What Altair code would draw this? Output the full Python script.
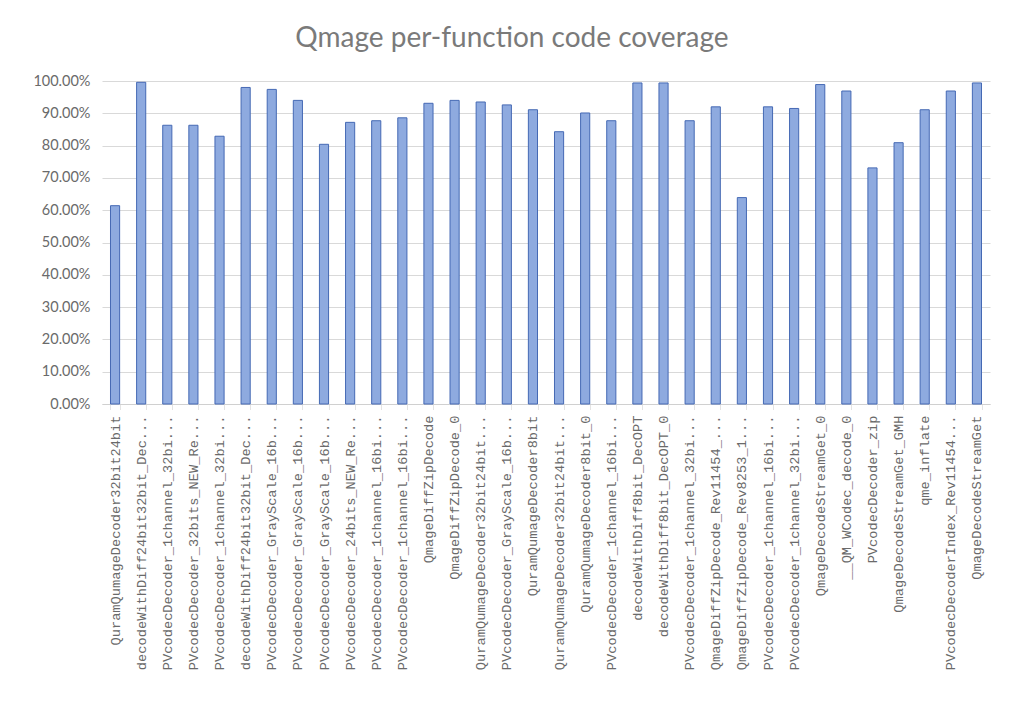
import json
import altair as alt
import pandas as pd

labels = [
    "QuramQumageDecoder32bit24bit",
    "decodeWithDiff24bit32bit_Dec...",
    "PVcodecDecoder_1channel_32bi...",
    "PVcodecDecoder_32bits_NEW_Re...",
    "PVcodecDecoder_1channel_32bi...",
    "decodeWithDiff24bit32bit_Dec...",
    "PVcodecDecoder_GrayScale_16b...",
    "PVcodecDecoder_GrayScale_16b...",
    "PVcodecDecoder_GrayScale_16b...",
    "PVcodecDecoder_24bits_NEW_Re...",
    "PVcodecDecoder_1channel_16bi...",
    "PVcodecDecoder_1channel_16bi...",
    "QmageDiffZipDecode",
    "QmageDiffZipDecode_0",
    "QuramQumageDecoder32bit24bit...",
    "PVcodecDecoder_GrayScale_16b...",
    "QuramQumageDecoder8bit",
    "QuramQumageDecoder32bit24bit...",
    "QuramQumageDecoder8bit_0",
    "PVcodecDecoder_1channel_16bi...",
    "decodeWithDiff8bit_DecOPT",
    "decodeWithDiff8bit_DecOPT_0",
    "PVcodecDecoder_1channel_32bi...",
    "QmageDiffZipDecode_Rev11454_...",
    "QmageDiffZipDecode_Rev8253_1...",
    "PVcodecDecoder_1channel_16bi...",
    "PVcodecDecoder_1channel_32bi...",
    "QmageDecodeStreamGet_0",
    "__QM_WCodec_decode_0",
    "PVcodecDecoder_zip",
    "QmageDecodeStreamGet_GMH",
    "qme_inflate",
    "PVcodecDecoderIndex_Rev11454...",
    "QmageDecodeStreamGet",
]

coverage = [
    0.614, 0.996, 0.863, 0.863, 0.829, 0.980, 0.974, 0.940, 0.804, 0.872,
    0.877, 0.886, 0.931, 0.940, 0.935, 0.926, 0.911, 0.843, 0.901, 0.877,
    0.994, 0.994, 0.877, 0.920, 0.639, 0.920, 0.915, 0.989, 0.969, 0.731,
    0.809, 0.911, 0.969, 0.994,
]

y_ticks = [0, 0.1, 0.2, 0.3, 0.4, 0.5, 0.6, 0.7, 0.8, 0.9, 1.0]

df = pd.DataFrame({"idx": list(range(len(labels))), "coverage": coverage})

label_expr = json.dumps(labels) + "[datum.value]"

chart = (
    alt.Chart(df)
    .mark_bar(fill="#8eaadf", stroke="#4569b4", strokeWidth=1)
    .encode(
        x=alt.X(
            "idx:O",
            title=None,
            scale=alt.Scale(paddingInner=0.65, paddingOuter=0.325),
            axis=alt.Axis(
                labelExpr=label_expr,
                labelAngle=-90,
                labelAlign="right",
                labelBaseline="middle",
                labelFont="Liberation Mono",
                labelFontSize=13.7,
                labelColor="#6a6a6a",
                labelPadding=5,
                domainColor="#d0d0d0",
                tickBand="extent",
                tickColor="#c8c8c8",
                tickSize=6,
                tickDash=[1, 1],
                labelLimit=400,
            ),
        ),
        y=alt.Y(
            "coverage:Q",
            title=None,
            scale=alt.Scale(domain=[0, 1]),
            axis=alt.Axis(
                values=y_ticks,
                format=".2%",
                labelFont="Lato",
                labelFontSize=14.5,
                labelColor="#6a6a6a",
                labelPadding=12,
                ticks=False,
                domain=False,
                gridColor="#d9d9d9",
            ),
        ),
    )
    .properties(
        width=888,
        height=323,
        title=alt.TitleParams(
            "Qmage per-function code coverage",
            font="Lato",
            fontSize=28,
            fontWeight="normal",
            color="#7a7a7a",
            offset=20,
            dx=-34,
        ),
        autosize=alt.AutoSizeParams(type="none"),
        padding={"left": 94, "top": 73, "right": 20, "bottom": 300},
    )
    .configure_view(stroke=None)
)

chart.save("out.html", embed_options={"renderer": "svg", "actions": False})
